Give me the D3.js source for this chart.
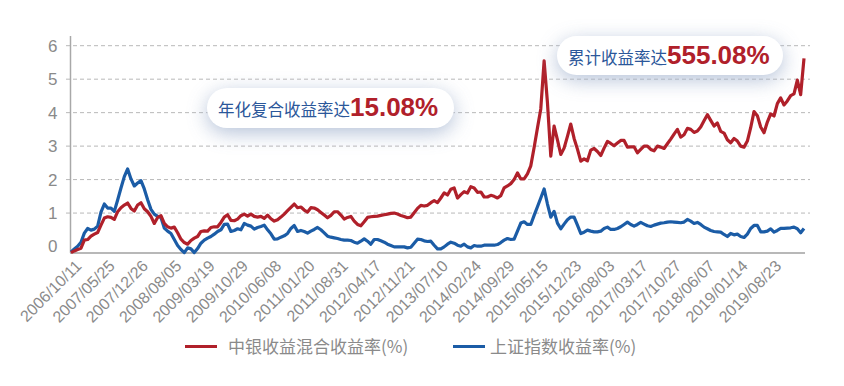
<!DOCTYPE html>
<html>
<head>
<meta charset="utf-8">
<script src="https://cdn.jsdelivr.net/npm/d3@7"></script>
<style>
  body { margin: 0; background: #fff; }
  svg { display: block; font-family: "Liberation Sans", Arial, sans-serif; }
</style>
</head>
<body>
<svg id="chart"></svg>
<script>
const width = 844, height = 386;

// x-axis category labels, one every 10 data points
const dateLabels = ["2006/10/11", "2007/05/25", "2007/12/26", "2008/08/05", "2009/03/19", "2009/10/29",
  "2010/06/08", "2011/01/20", "2011/08/31", "2012/04/17", "2012/11/21", "2013/07/10", "2014/02/24",
  "2014/09/29", "2015/05/15", "2015/12/23", "2016/08/03", "2017/03/17", "2017/10/27", "2018/06/07",
  "2019/01/14", "2019/08/23"];
const labelStep = 10;

// 中银收益混合收益率
const fundReturn = [
  -0.18, -0.13, -0.09, -0.05, 0.19, 0.21, 0.31, 0.37, 0.42, 0.64,
  0.85, 0.89, 0.87, 0.81, 1.04, 1.16, 1.24, 1.30, 1.14, 1.06,
  1.24, 1.31, 1.13, 1.04, 0.90, 0.69, 0.87, 0.92, 0.69, 0.59,
  0.55, 0.58, 0.41, 0.22, 0.12, 0.07, 0.18, 0.25, 0.30, 0.45,
  0.47, 0.46, 0.57, 0.59, 0.59, 0.72, 0.88, 0.95, 0.78, 0.77,
  0.82, 0.92, 0.97, 0.91, 0.97, 0.90, 0.88, 0.90, 0.84, 0.94,
  0.83, 0.76, 0.80, 0.88, 0.97, 1.07, 1.17, 1.27, 1.16, 1.18,
  1.09, 1.03, 1.16, 1.15, 1.10, 1.02, 0.94, 0.86, 0.93, 1.04,
  1.04, 0.94, 0.82, 0.87, 0.90, 0.76, 0.66, 0.62, 0.74, 0.87,
  0.89, 0.90, 0.91, 0.93, 0.95, 0.97, 0.99, 1.00, 0.97, 0.93,
  0.90, 0.86, 0.88, 1.01, 1.14, 1.23, 1.21, 1.23, 1.31, 1.37,
  1.31, 1.45, 1.60, 1.54, 1.71, 1.75, 1.45, 1.55, 1.64, 1.60,
  1.79, 1.75, 1.62, 1.63, 1.48, 1.48, 1.53, 1.50, 1.45, 1.52,
  1.75, 1.81, 1.88, 2.00, 2.20, 2.02, 2.02, 2.17, 2.41, 2.96,
  3.54, 4.11, 5.55, 4.30, 2.70, 3.60, 3.19, 2.75, 2.94, 3.29,
  3.66, 3.23, 2.91, 2.55, 2.62, 2.56, 2.88, 2.93, 2.84, 2.72,
  2.94, 3.14, 3.08, 3.01, 3.09, 3.17, 3.17, 2.97, 2.98, 2.98,
  2.80, 2.90, 3.00, 3.00, 2.90, 2.86, 3.00, 2.97, 2.93, 3.07,
  3.21, 3.36, 3.50, 3.27, 3.34, 3.53, 3.50, 3.41, 3.45, 3.57,
  3.76, 3.94, 3.77, 3.60, 3.69, 3.44, 3.39, 3.19, 3.10, 3.23,
  3.15, 3.00, 2.97, 3.15, 3.55, 4.03, 3.91, 3.57, 3.40, 3.72,
  3.96, 3.90, 4.27, 4.44, 4.23, 4.35, 4.51, 4.56, 4.97, 4.54, 5.62
];

// 上证指数收益率
const indexReturn = [
  -0.16, -0.07, 0.01, 0.13, 0.40, 0.54, 0.49, 0.52, 0.61, 1.03,
  1.27, 1.15, 1.15, 1.05, 1.39, 1.75, 2.09, 2.32, 2.02, 1.81,
  1.90, 1.97, 1.72, 1.40, 1.11, 0.97, 0.90, 0.87, 0.55, 0.46,
  0.39, 0.21, 0.03, -0.09, -0.18, -0.04, -0.07, -0.18, -0.06, 0.10,
  0.19, 0.25, 0.30, 0.37, 0.45, 0.50, 0.66, 0.67, 0.45, 0.48,
  0.53, 0.50, 0.69, 0.64, 0.61, 0.52, 0.57, 0.60, 0.64, 0.50,
  0.38, 0.22, 0.23, 0.28, 0.32, 0.39, 0.54, 0.63, 0.45, 0.48,
  0.45, 0.40, 0.46, 0.51, 0.57, 0.50, 0.41, 0.31, 0.28, 0.26,
  0.24, 0.21, 0.19, 0.19, 0.18, 0.13, 0.10, 0.16, 0.23, 0.16,
  0.07, 0.21, 0.21, 0.17, 0.13, 0.07, 0.03, -0.01, -0.01, -0.01,
  -0.01, -0.04, -0.02, 0.10, 0.22, 0.21, 0.17, 0.15, 0.16, 0.04,
  -0.07, -0.07, -0.01, 0.07, 0.13, 0.10, 0.04, 0.01, 0.07, -0.01,
  -0.04, 0.03, 0.01, 0.01, 0.04, 0.04, 0.04, 0.04, 0.06, 0.12,
  0.19, 0.24, 0.21, 0.22, 0.46, 0.70, 0.74, 0.66, 0.66, 0.93,
  1.19, 1.45, 1.72, 1.27, 0.88, 1.05, 0.70, 0.53, 0.67, 0.80,
  0.88, 0.88, 0.64, 0.39, 0.43, 0.49, 0.46, 0.44, 0.44, 0.46,
  0.54, 0.58, 0.51, 0.51, 0.54, 0.59, 0.66, 0.73, 0.66, 0.61,
  0.66, 0.72, 0.67, 0.62, 0.60, 0.64, 0.67, 0.70, 0.71, 0.73,
  0.74, 0.73, 0.72, 0.71, 0.73, 0.81, 0.76, 0.69, 0.72, 0.66,
  0.58, 0.53, 0.48, 0.45, 0.44, 0.43, 0.36, 0.30, 0.39, 0.35,
  0.37, 0.30, 0.27, 0.37, 0.54, 0.63, 0.63, 0.44, 0.44, 0.46,
  0.53, 0.43, 0.48, 0.54, 0.54, 0.55, 0.56, 0.58, 0.53, 0.41, 0.54
];

const yTicks = [0, 1, 2, 3, 4, 5, 6];
const seriesNames = ["中银收益混合收益率(%)", "上证指数收益率(%)"];
const seriesColors = ["#b0202a", "#1b5ca6"];

const svg = d3.select("#chart")
  .attr("width", width)
  .attr("height", height);

const xScale = d3.scaleLinear()
  .domain([0, fundReturn.length - 1])
  .range([71, 804]);

const yScale = d3.scaleLinear()
  .domain([-0.19, 6])
  .range([252.9, 45.7]);

// dashed gridlines
svg.append("g")
  .selectAll("line")
  .data(yTicks.filter(d => d > 0))
  .enter().append("line")
  .attr("x1", 66)
  .attr("x2", 810)
  .attr("y1", d => yScale(d))
  .attr("y2", d => yScale(d))
  .attr("stroke", "#b8b8b8")
  .attr("stroke-width", 1)
  .attr("stroke-dasharray", "4,3");

// y axis
const yAxis = svg.append("g")
  .attr("transform", "translate(70.5,0)")
  .call(d3.axisLeft(yScale).tickValues(yTicks).tickFormat(d3.format("d")).tickSize(0).tickPadding(13));
yAxis.select(".domain").remove();
yAxis.selectAll("text")
  .attr("fill", "#8a8a8a")
  .style("font-size", "17px");

svg.append("line")
  .attr("x1", 70.5).attr("x2", 70.5)
  .attr("y1", 36).attr("y2", yScale.range()[0])
  .attr("stroke", "#a8a8a8")
  .attr("stroke-width", 1.5);

// x axis
const xAxis = svg.append("g")
  .attr("transform", `translate(0,${yScale.range()[0]})`)
  .call(d3.axisBottom(xScale)
    .tickValues(dateLabels.map((d, i) => i * labelStep))
    .tickFormat(i => dateLabels[i / labelStep])
    .tickSize(0));
xAxis.select(".domain").remove();
xAxis.selectAll("text")
  .attr("fill", "#8a8a8a")
  .style("font-size", "16px")
  .attr("text-anchor", "end")
  .attr("dy", null)
  .attr("y", 0)
  .attr("transform", "translate(11,14) rotate(-45)");

svg.append("line")
  .attr("x1", 70).attr("x2", 805)
  .attr("y1", yScale.range()[0]).attr("y2", yScale.range()[0])
  .attr("stroke", "#a0a0a0")
  .attr("stroke-width", 1.5);

// lines
const line = d3.line()
  .x((d, i) => xScale(i))
  .y(d => yScale(d));

[indexReturn, fundReturn].forEach(function(series, k) {
  svg.append("path")
    .datum(series)
    .attr("fill", "none")
    .attr("stroke", k === 0 ? seriesColors[1] : seriesColors[0])
    .attr("stroke-width", 3.2)
    .attr("stroke-linejoin", "round")
    .attr("d", line);
});

// callouts
const defs = svg.append("defs");
defs.append("filter")
  .attr("id", "glow")
  .attr("x", "-50%").attr("y", "-150%")
  .attr("width", "200%").attr("height", "400%")
  .append("feGaussianBlur")
  .attr("stdDeviation", 10);

const callouts = [
  { label: "年化复合收益率达", value: "15.08%", x: 207, y: 88, w: 247, h: 40 },
  { label: "累计收益率达", value: "555.08%", x: 557, y: 36, w: 226, h: 39 }
];

callouts.forEach(function(c) {
  const g = svg.append("g");
  g.append("rect")
    .attr("x", c.x).attr("y", c.y + 5)
    .attr("width", c.w).attr("height", c.h)
    .attr("rx", c.h / 2)
    .attr("fill", "#a3b3cf")
    .attr("opacity", 0.8)
    .attr("filter", "url(#glow)");
  g.append("rect")
    .attr("x", c.x).attr("y", c.y)
    .attr("width", c.w).attr("height", c.h)
    .attr("rx", c.h / 2)
    .attr("fill", "#fff");
  const t = g.append("text")
    .attr("x", c.x + 11)
    .attr("y", c.y + 28);
  t.append("tspan")
    .style("font-family", "'Noto Sans CJK SC', sans-serif")
    .style("font-size", "16.5px")
    .attr("fill", "#2b579a")
    .text(c.label);
  t.append("tspan")
    .style("font-family", "'Liberation Sans', Arial, sans-serif")
    .style("font-size", "26px")
    .style("font-weight", "bold")
    .attr("fill", "#b0202a")
    .text(c.value);
});

// legend
const legendX = [185, 453];
const legend = svg.selectAll(".legend")
  .data(seriesNames)
  .enter().append("g")
  .attr("class", "legend")
  .attr("transform", (d, i) => `translate(${legendX[i]},346.5)`);

legend.append("line")
  .attr("x1", 0).attr("x2", 32)
  .attr("stroke", (d, i) => seriesColors[i])
  .attr("stroke-width", 3);

legend.append("text")
  .attr("x", (d, i) => i === 0 ? 43 : 37)
  .attr("y", 6)
  .style("font-family", "'Noto Sans CJK SC', sans-serif")
  .style("font-size", "17px")
  .attr("fill", "#8a8a8a")
  .text(d => d);
</script>
</body>
</html>
